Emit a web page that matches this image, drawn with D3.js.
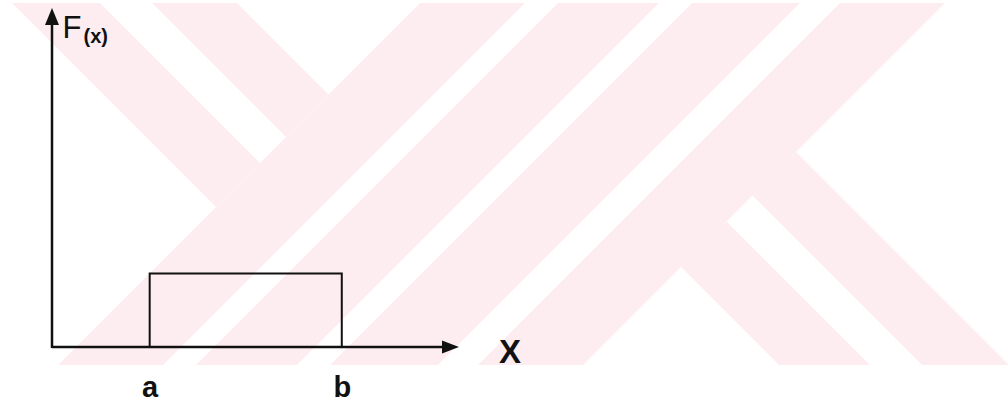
<!DOCTYPE html>
<html>
<head>
<meta charset="utf-8">
<script src="https://cdn.jsdelivr.net/npm/d3@7"></script>
<style>
  html, body { margin: 0; padding: 0; background: #ffffff; }
  svg { display: block; }
</style>
</head>
<body>
<svg id="chart" width="1008" height="406"></svg>
<script>
// ---- data ----
const xDomain = [0, 10];
const yDomain = [0, 1];
const intervalStart = [2.4];     // a
const intervalEnd = [7.12];      // b
const densityValue = [0.217];    // F(x) height of the uniform block
const tickLabels = ["a", "b"];
const axisLabelX = "X";
const axisLabelY = "F";
const axisLabelYSub = "(x)";

// background watermark stripes (diagonal coordinates u = x+y, v = x-y)
const wmLeftBands = [[9, 97], [149, 234]];
const wmLeftLimit = [423];
const wmMiddleBands = [[423, 528], [561, 662], [695, 803], [843, 948]];
const wmRightBands = [[414, 505], [557, 644]];
const wmRightStart = [948];

// ---- layout ----
const W = 1008, H = 406;
const svg = d3.select("#chart");
const x = d3.scaleLinear().domain(xDomain).range([52, 459]);
const y = d3.scaleLinear().domain(yDomain).range([347, 8]);
const ink = "#111111";
const font = "'Liberation Sans', Arial, Helvetica, sans-serif";

// watermark
const defs = svg.append("defs");
defs.append("clipPath").attr("id", "wmclip")
  .append("rect").attr("x", 0).attr("y", 3).attr("width", W).attr("height", 362);
const wm = svg.append("g").attr("clip-path", "url(#wmclip)")
  .append("g").attr("transform", "matrix(0.5,0.5,0.5,-0.5,0,0)");
const pink = "#fdedf0";
const rects = [];
wmLeftBands.forEach(b => rects.push({u0: -200, u1: wmLeftLimit[0], v0: b[0], v1: b[1]}));
wmMiddleBands.forEach(b => rects.push({u0: b[0], u1: b[1], v0: -1600, v1: 1600}));
wmRightBands.forEach(b => rects.push({u0: wmRightStart[0], u1: 2600, v0: b[0], v1: b[1]}));
wm.selectAll("rect").data(rects).join("rect")
  .attr("x", d => d.u0).attr("y", d => d.v0)
  .attr("width", d => d.u1 - d.u0).attr("height", d => d.v1 - d.v0)
  .attr("fill", pink).attr("stroke", "none");

// uniform block
const block = intervalStart.map((a, i) => ({a, b: intervalEnd[i], h: densityValue[i]}));
svg.append("g").selectAll("path").data(block).join("path")
  .attr("d", d => `M${x(d.a)},${y(0)}V${y(d.h)}H${x(d.b)}V${y(0)}`)
  .attr("fill", "none").attr("stroke", ink).attr("stroke-width", 2);

// x axis
const xAxisEnd = 444;
const xAxis = d3.axisBottom(x)
  .tickValues([intervalStart[0], intervalEnd[0]])
  .tickFormat((d, i) => tickLabels[i])
  .tickSize(0).tickSizeOuter(0).tickPadding(29);
const gx = svg.append("g").attr("transform", `translate(0,${y(0)})`).call(xAxis);
gx.select(".domain").attr("d", `M${x(xDomain[0])},0H${xAxisEnd}`)
  .attr("stroke", ink).attr("stroke-width", 2.5);
gx.selectAll(".tick text").attr("fill", ink)
  .style("font-family", font).style("font-size", "29px").style("font-weight", "bold");
gx.append("path")
  .attr("d", `M${x(xDomain[1])},0L${x(xDomain[1]) - 17},-6.5L${x(xDomain[1]) - 17},6.5Z`)
  .attr("fill", ink);

// y axis
const yAxis = d3.axisLeft(y).tickValues([]).tickSizeOuter(0);
const gy = svg.append("g").attr("transform", `translate(${x(xDomain[0])},0)`).call(yAxis);
gy.select(".domain").attr("d", `M0,${y(0) + 1}V${y(yDomain[1]) + 14}`)
  .attr("stroke", ink).attr("stroke-width", 2.5);
gy.append("path")
  .attr("d", `M0,${y(yDomain[1])}L-7,${y(yDomain[1]) + 17}L7,${y(yDomain[1]) + 17}Z`)
  .attr("fill", ink);

// labels
svg.append("text").attr("x", 499).attr("y", 363)
  .style("font-family", font).style("font-size", "33px").style("font-weight", "bold")
  .attr("fill", ink).text(axisLabelX);
const fl = svg.append("text").attr("x", 62.5).attr("y", 38)
  .style("font-family", font).attr("fill", ink);
fl.append("tspan").style("font-size", "31px").text(axisLabelY);
fl.append("tspan").attr("x", 83.5).attr("y", 43).style("font-size", "20px")
  .style("font-weight", "bold").text(axisLabelYSub);
</script>
</body>
</html>
